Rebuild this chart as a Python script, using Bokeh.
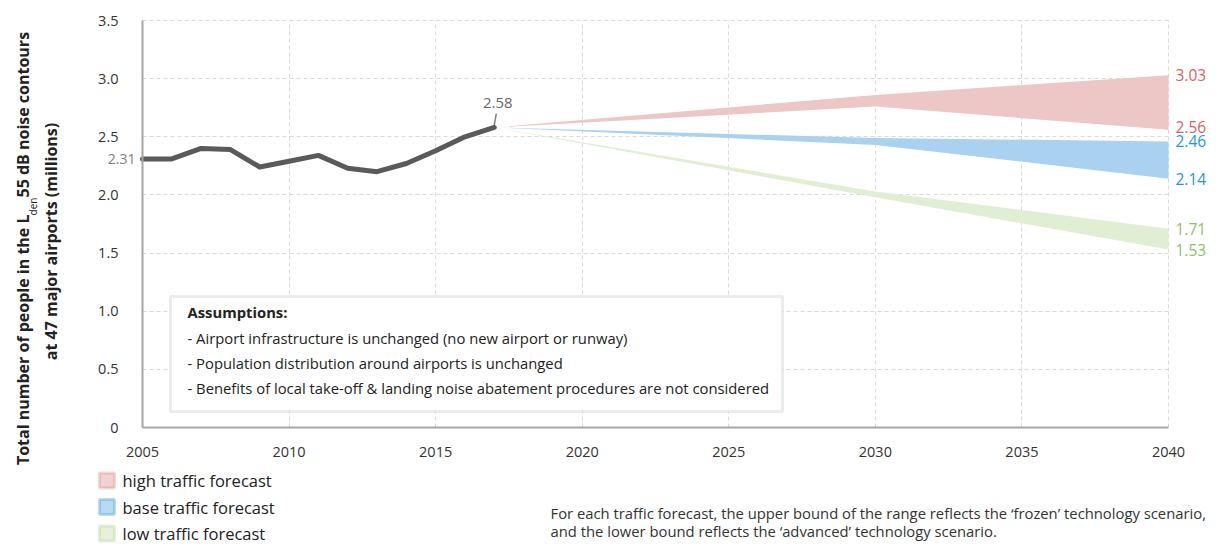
import math
from bokeh.plotting import figure
from bokeh.models import Label, BoxAnnotation, FixedTicker, PrintfTickFormatter, Grid
from bokeh.embed import file_html
from bokeh.resources import INLINE

# ---------------- data ----------------
years = [2005, 2006, 2007, 2008, 2009, 2010, 2011, 2012, 2013, 2014, 2015, 2016, 2017]
people = [2.31, 2.31, 2.40, 2.39, 2.24, 2.29, 2.34, 2.23, 2.20, 2.27, 2.38, 2.50, 2.58]

forecast_years = [2017, 2030, 2040]
high_upper = [2.58, 2.86, 3.03]
high_lower = [2.58, 2.76, 2.56]
base_upper = [2.58, 2.49, 2.46]
base_lower = [2.58, 2.43, 2.14]
low_upper = [2.58, 2.03, 1.71]
low_lower = [2.58, 1.98, 1.53]

x_ticks = [2005, 2010, 2015, 2020, 2025, 2030, 2035, 2040]
y_ticks = [0, 0.5, 1.0, 1.5, 2.0, 2.5, 3.0, 3.5]
y_tick_labels = ["0", "0.5", "1.0", "1.5", "2.0", "2.5", "3.0", "3.5"]

series_names = ["high traffic forecast", "base traffic forecast", "low traffic forecast"]
assumptions_title = "Assumptions:"
assumptions = [
    "- Airport infrastructure is unchanged (no new airport or runway)",
    "- Population distribution around airports is unchanged",
    "- Benefits of local take-off & landing noise abatement procedures are not considered",
]
footnote = [
    "For each traffic forecast, the upper bound of the range reflects the \u2018frozen\u2019 technology scenario,",
    "and the lower bound reflects the \u2018advanced\u2019 technology scenario.",
]

# ---------------- styles ----------------
FONT = "Open Sans"
band_fill = ["#ecc7c5", "#aad2f0", "#e0eed4"]
legend_fill = ["#f0d3d1", "#b9daf3", "#e6f1dc"]
legend_edge = ["#d4807c", "#1f8fd3", "#a6cf86"]
label_col = ["#d9625f", "#1f95d6", "#8cc360"]
line_col = "#5a5a5a"
text_col = "#222222"

W, H = 1216, 544
X0, X1, Y0, Y1 = 2005, 2040, 0, 3.5           # plotted data area
FX0, FX1, FY0, FY1 = 142, 1168, 20, 427       # its pixel box on the canvas


def px(xp):
    return X0 + (xp - FX0) * (X1 - X0) / (FX1 - FX0)


def py(yp):
    return Y1 - (yp - FY0) * (Y1 - Y0) / (FY1 - FY0)


# the frame covers the whole canvas so that no annotation is clipped
p = figure(width=W, height=H, x_range=(px(0), px(W)), y_range=(py(H), py(0)),
           output_backend="svg", toolbar_location=None,
           min_border_left=0, min_border_right=0, min_border_top=0, min_border_bottom=0)
p.outline_line_color = None
p.background_fill_color = "white"
p.border_fill_color = "white"

# axes, drawn at fixed data locations
for ax in (p.xaxis[0], p.yaxis[0]):
    ax.axis_line_color = "#a6a6a6"
    ax.axis_line_width = 2
    ax.major_tick_line_color = None
    ax.minor_tick_line_color = None
    ax.major_label_text_font = FONT
    ax.major_label_text_font_size = "14.5px"
    ax.major_label_text_color = "#333333"
p.xaxis.fixed_location = Y0
p.xaxis.bounds = (X0, X1)
p.xaxis.ticker = FixedTicker(ticks=x_ticks)
p.xaxis.major_label_standoff = 13
p.yaxis.fixed_location = X0
p.yaxis.bounds = (Y0, Y1)
p.yaxis.ticker = FixedTicker(ticks=y_ticks)
p.yaxis.formatter = PrintfTickFormatter(format="%.1f")
p.yaxis.major_label_overrides = {t: s for t, s in zip(y_ticks, y_tick_labels)}
p.yaxis.major_label_standoff = 18

# grid
grid_style = dict(grid_line_color="#d9d9d9", grid_line_dash="4 3", grid_line_width=1)
has_cross = "cross_bounds" in Grid.properties()
if has_cross:
    p.xgrid.ticker = FixedTicker(ticks=x_ticks[1:])
    p.ygrid.ticker = FixedTicker(ticks=y_ticks[1:])
    p.xgrid.cross_bounds = (Y0, Y1)
    p.ygrid.cross_bounds = (X0, X1)
    for g in (p.xgrid[0], p.ygrid[0]):
        for k, v in grid_style.items():
            setattr(g, k, v)
else:
    p.xgrid.visible = False
    p.ygrid.visible = False
    gx = x_ticks[1:]
    p.segment(x0=gx, y0=[Y0] * len(gx), x1=gx, y1=[Y1] * len(gx),
              line_color="#d9d9d9", line_dash="4 3", line_width=1)
    gy = y_ticks[1:]
    p.segment(x0=[X0] * len(gy), y0=gy, x1=[X1] * len(gy), y1=gy,
              line_color="#d9d9d9", line_dash="4 3", line_width=1)

# bands
bands = [(high_lower, high_upper), (base_lower, base_upper), (low_lower, low_upper)]
for (lo, hi), fc in zip(bands, band_fill):
    p.varea(x=forecast_years, y1=lo, y2=hi, fill_color=fc, fill_alpha=1.0)

# history line
p.line(years, people, line_width=5, line_color=line_col, line_cap="round", line_join="round")

# start / end labels of the history line
p.add_layout(Label(x=px(135), y=people[0], text=f"{people[0]:.2f}",
                   text_align="right", text_baseline="middle", text_font=FONT,
                   text_font_size="14px", text_color="#808080"))
p.segment(x0=[years[-1]], y0=[people[-1] + 0.02], x1=[years[-1] + 0.07], y1=[people[-1] + 0.12],
          line_color="#808080", line_width=1.5)
p.add_layout(Label(x=years[-1] + 0.12, y=people[-1] + 0.21, text=f"{people[-1]:.2f}",
                   text_align="center", text_baseline="middle", text_font=FONT,
                   text_font_size="15px", text_color="#666666"))

# end-value labels at 2040
nudges = [0.02, 0.0, 0.0]
for (lo, hi), col, n in zip(bands, label_col, nudges):
    for v, dv in ((hi[-1], 0.0), (lo[-1], n)):
        p.add_layout(Label(x=px(1175), y=v + dv, text=f"{v:.2f}", text_align="left",
                           text_baseline="middle", text_font=FONT, text_font_size="15.5px",
                           text_color=col))

# assumptions box
p.add_layout(BoxAnnotation(left=px(170), right=px(782), top=py(296), bottom=py(411),
                           fill_color="white", fill_alpha=1.0, line_color="#bfbfbf",
                           line_width=3))
p.add_layout(Label(x=px(187), y=py(311), text=assumptions_title, text_font=FONT,
                   text_font_size="14.8px", text_font_style="bold", text_color=text_col,
                   text_baseline="middle"))
for i, s in enumerate(assumptions):
    p.add_layout(Label(x=px(187), y=py(337 + 25 * i), text=s, text_font=FONT,
                       text_font_size="14.8px", text_color=text_col, text_baseline="middle"))

# legend
for i, (name, fc, ec) in enumerate(zip(series_names, legend_fill, legend_edge)):
    yc = 480 + 26.5 * i
    p.add_layout(BoxAnnotation(left=px(99), right=px(114), top=py(yc - 7.5), bottom=py(yc + 7.5),
                               fill_color=fc, fill_alpha=1.0, line_color=ec, line_width=3))
    p.add_layout(Label(x=px(122), y=py(yc), text=name, text_font=FONT,
                       text_font_size="16.5px", text_color=text_col, text_baseline="middle"))

# footnote
for i, s in enumerate(footnote):
    p.add_layout(Label(x=px(550), y=py(512 + 18 * i), text=s, text_font=FONT,
                       text_font_size="14.8px", text_color="#333333", text_baseline="middle"))

# y-axis title (rotated, with subscript)
ang = math.pi / 2
p.add_layout(Label(x=px(22), y=py(214), text="Total number of people in the L", angle=ang,
                   text_align="right", text_baseline="middle", text_font=FONT,
                   text_font_size="16px", text_font_style="bold", text_color=text_col))
p.add_layout(Label(x=px(32), y=py(206), text="den", angle=ang,
                   text_align="center", text_baseline="middle", text_font=FONT,
                   text_font_size="10px", text_color=text_col))
p.add_layout(Label(x=px(22), y=py(197), text="55 dB noise contours", angle=ang,
                   text_align="left", text_baseline="middle", text_font=FONT,
                   text_font_size="16px", text_font_style="bold", text_color=text_col))
p.add_layout(Label(x=px(50), y=py(241), text="at 47 major airports (millions)", angle=ang,
                   text_align="center", text_baseline="middle", text_font=FONT,
                   text_font_size="16px", text_font_style="bold", text_color=text_col))

open("out.html", "w").write(file_html(p, INLINE))
